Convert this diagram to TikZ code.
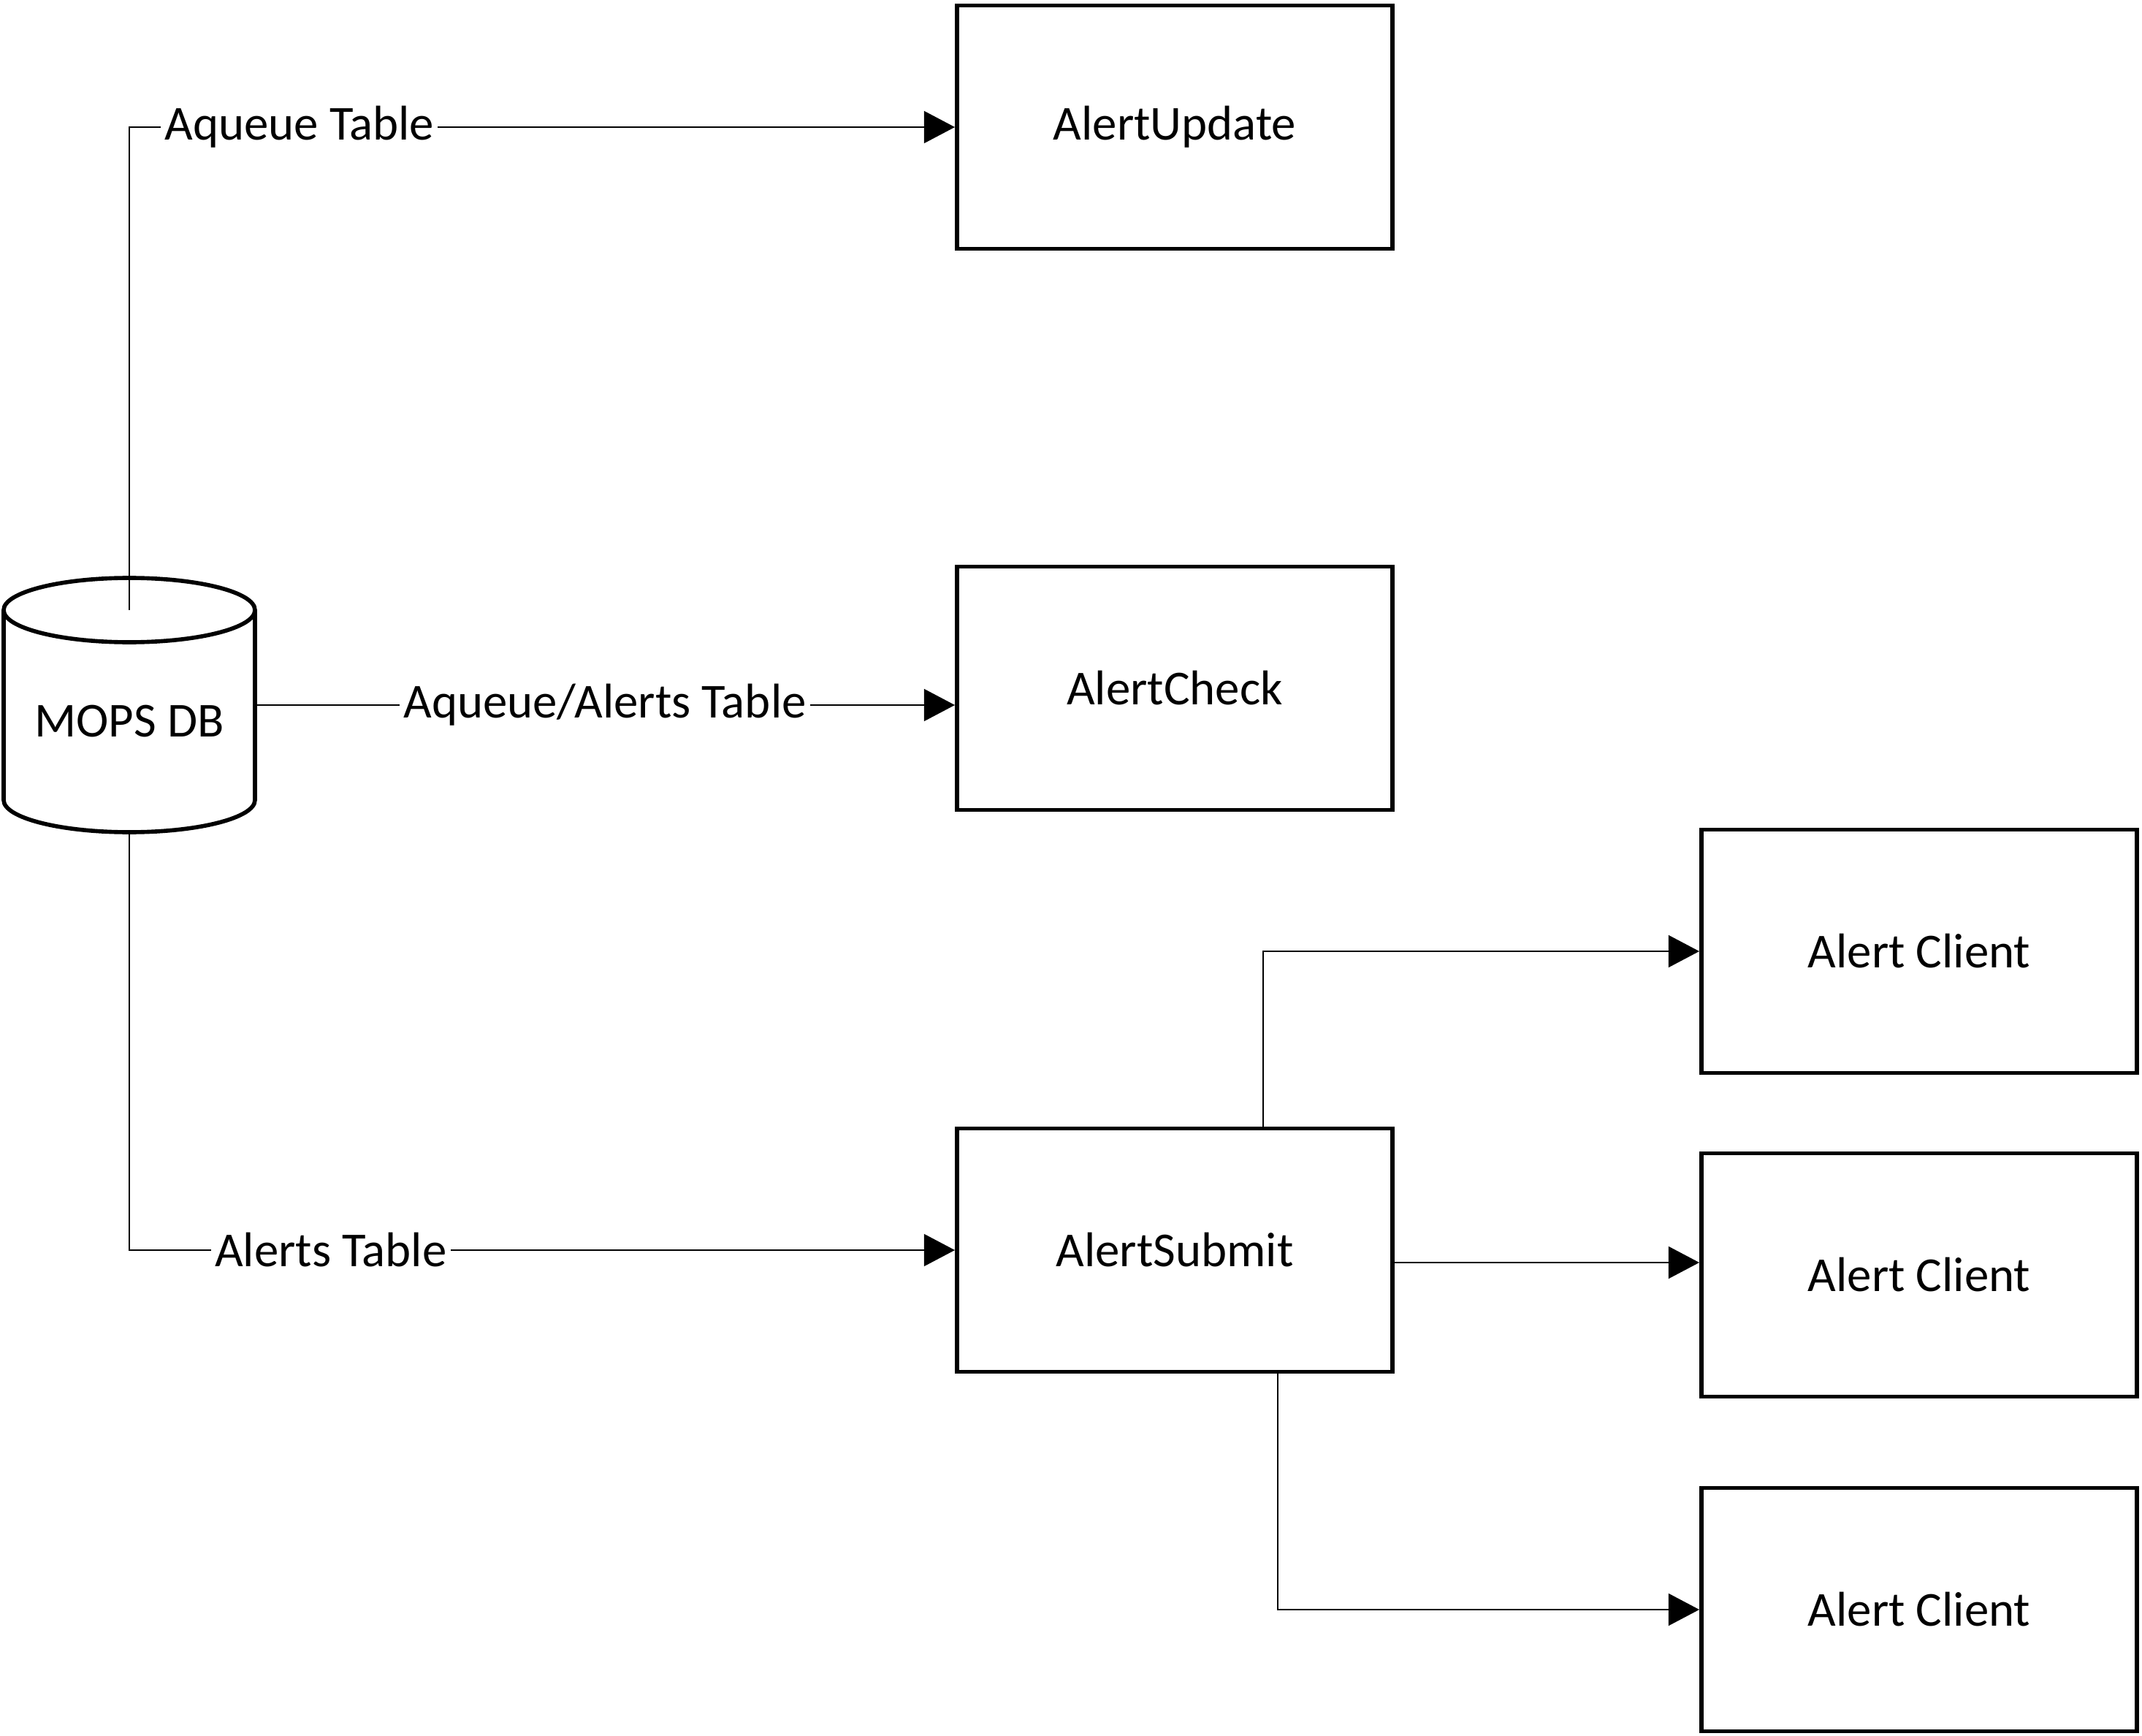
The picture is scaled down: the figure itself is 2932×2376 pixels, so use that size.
\documentclass[tikz,border=0pt]{standalone}
\usepackage{fontspec}
\setmainfont{Carlito}
\usetikzlibrary{positioning,arrows.meta}

\tikzset{
  proc/.style={draw, line width=1.6pt, minimum width=5.96cm, minimum height=3.33cm,
    inner sep=0pt, font=\fontsize{19}{23}\selectfont},
  dbline/.style={line width=1.6pt},
  link/.style={line width=0.6pt, -{Triangle[length=12pt,width=12.5pt]}},
  tag/.style={fill=white, inner sep=1.5pt, font=\fontsize{19}{23}\selectfont},
}

\begin{document}
\begin{tikzpicture}[x=0.01cm,y=0.01cm]
\useasboundingbox (0,0) rectangle (2932,-2376);

% database
\draw[dbline] (5,-835) -- (5,-1095) arc (180:360:172 and 44) -- (349,-835);
\draw[dbline] (177,-835) ellipse (172 and 44);
\node[font=\fontsize{19}{23}\selectfont] (db) at (177,-987) {MOPS DB};
\coordinate (dbtop) at (177,-835);
\coordinate (dbright) at (349,-965);
\coordinate (dbbot) at (177,-1139);

% processes
\node[proc] (upd) at (1608,-174) {AlertUpdate};
\node[proc] (chk) at (1608,-942) {AlertCheck};
\node[proc] (sub) at (1608,-1711) {AlertSubmit};

% clients
\node[proc] (cl1) at (2627,-1302) {Alert Client};
\node[proc] (cl2) at (2627,-1745) {Alert Client};
\node[proc] (cl3) at (2627,-2203) {Alert Client};

% tables
\draw[link] (dbtop) |- node[tag, pos=0.603] {Aqueue Table} (upd.west);
\draw[link] (dbright) -- node[tag] {Aqueue/Alerts Table} (dbright -| chk.west);
\draw[link] (dbbot) |- node[tag, pos=0.622] {Alerts Table} (sub.west);

% submit to clients
\draw[link] ([xshift=1.21cm]sub.north) |- (cl1.west);
\draw[link] ([yshift=-0.17cm]sub.east) -- ([yshift=-0.17cm]sub.east -| cl2.west);
\draw[link] ([xshift=1.41cm]sub.south) |- (cl3.west);
\end{tikzpicture}
\end{document}
